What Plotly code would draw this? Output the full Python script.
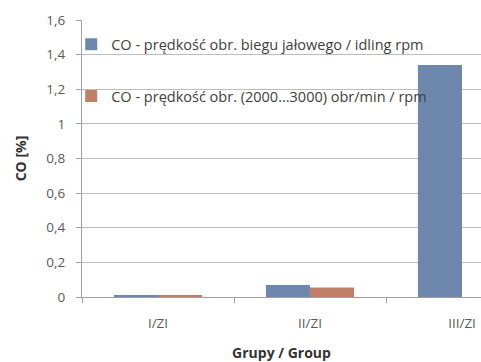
import plotly.graph_objects as go

groups = ["I/ZI", "II/ZI", "III/ZI"]
co_idle = [0.01, 0.07, 1.34]
co_high = [0.01, 0.055, 0.0]
series_names = [
    "CO - prędkość obr. biegu jałowego / idling rpm",
    "CO - prędkość obr. (2000...3000) obr/min / rpm",
]
y_ticks = [0, 0.2, 0.4, 0.6, 0.8, 1.0, 1.2, 1.4, 1.6]

font_family = "'Open Sans', sans-serif"
grey = "#595959"

fig = go.Figure()
fig.add_trace(go.Bar(x=groups, y=co_idle, name=series_names[0],
                     marker=dict(color="#6E88AD", line=dict(width=0)),
                     legendgroup="a"))
fig.add_trace(go.Bar(x=groups, y=co_high, name=series_names[1],
                     marker=dict(color="#C27F67", line=dict(width=0)),
                     legendgroup="b"))

fig.update_layout(
    width=481, height=362,
    margin=dict(l=82, r=0, t=20, b=65),
    paper_bgcolor="white", plot_bgcolor="white",
    separators=", ",
    barmode="group", bargap=0.42, bargroupgap=0,
    font=dict(family=font_family, size=13, color=grey),
    showlegend=True,
    legend=dict(x=-0.027, y=0.97, xanchor="left", yanchor="top",
                bgcolor="rgba(0,0,0,0)", tracegroupgap=30,
                font=dict(size=14.5, color="#404040"),
                itemwidth=30, traceorder="grouped"),
    xaxis=dict(range=[-0.5, 2.125], showgrid=False, showline=True,
               linecolor="#a0a0a0", linewidth=1, ticks="outside",
               tickson="boundaries", ticklen=5, tickcolor="#a0a0a0",
               ticklabelstandoff=14,
               tickfont=dict(size=13.5, color=grey),
               title=dict(text="<b>Grupy / Group</b>", standoff=16,
                          font=dict(size=14, color="#333333"))),
    yaxis=dict(range=[0, 1.6], tickvals=y_ticks, showgrid=True,
               gridcolor="#bdbdbd", gridwidth=1, showline=True,
               linecolor="#a0a0a0", ticks="outside", ticklen=5,
               tickcolor="#a0a0a0", zeroline=False,
               ticklabelstandoff=8,
               tickfont=dict(size=13.5, color=grey),
               title=dict(text="<b>CO [%]</b>", standoff=16,
                          font=dict(size=14, color="#333333"))),
)

fig.write_html("out.html")
